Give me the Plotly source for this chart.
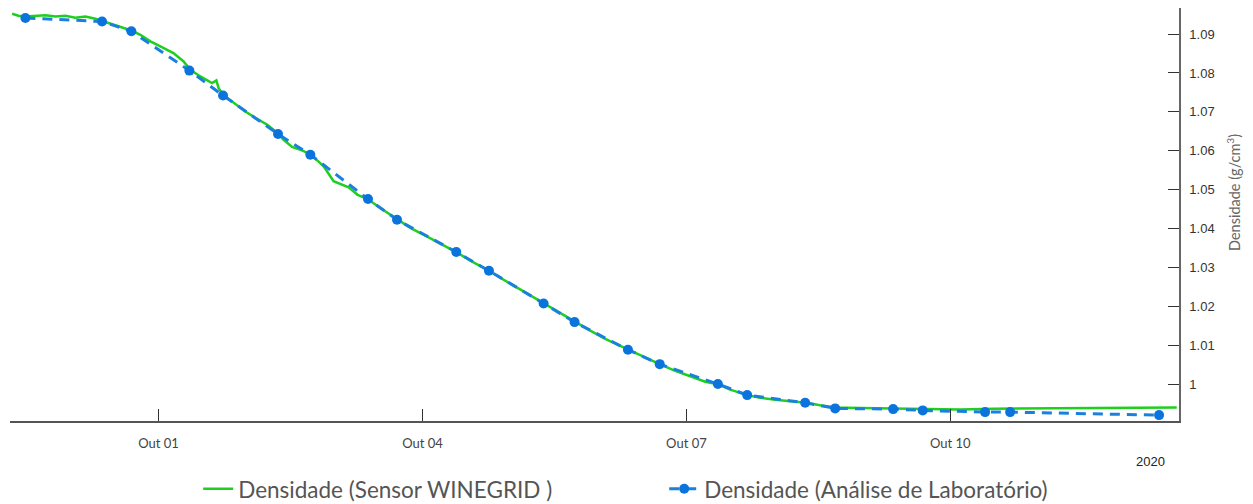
import plotly.graph_objects as go

# ---- data ----
sensor_time = [
    "2020-09-29 08:03", "2020-09-29 09:45", "2020-09-29 11:40", "2020-09-29 14:24",
    "2020-09-29 17:08", "2020-09-29 19:51", "2020-09-29 22:35", "2020-09-30 01:19",
    "2020-09-30 04:02", "2020-09-30 06:46", "2020-09-30 08:24", "2020-09-30 10:51",
    "2020-09-30 13:35", "2020-09-30 16:35", "2020-09-30 19:02", "2020-09-30 21:46",
    "2020-10-01 00:29", "2020-10-01 04:02", "2020-10-01 06:46", "2020-10-01 08:40",
    "2020-10-01 11:24", "2020-10-01 14:35", "2020-10-01 15:46", "2020-10-01 16:23",
    "2020-10-01 17:35", "2020-10-01 20:29", "2020-10-01 23:40", "2020-10-02 03:13",
    "2020-10-02 05:40", "2020-10-02 08:40", "2020-10-02 10:02", "2020-10-02 12:25",
    "2020-10-02 15:08", "2020-10-02 17:35", "2020-10-02 21:02", "2020-10-02 23:45",
    "2020-10-03 02:03", "2020-10-03 03:51", "2020-10-03 06:18", "2020-10-03 09:02",
    "2020-10-03 12:29", "2020-10-03 16:35", "2020-10-03 20:40", "2020-10-04 00:46",
    "2020-10-04 04:51", "2020-10-04 09:13", "2020-10-04 13:02", "2020-10-04 18:08",
    "2020-10-04 21:13", "2020-10-05 01:19", "2020-10-05 05:24", "2020-10-05 09:02",
    "2020-10-05 13:35", "2020-10-05 17:29", "2020-10-05 21:46", "2020-10-06 01:51",
    "2020-10-06 04:35", "2020-10-06 08:03", "2020-10-06 11:24", "2020-10-06 14:08",
    "2020-10-06 16:43", "2020-10-06 20:57", "2020-10-07 01:02", "2020-10-07 05:08",
    "2020-10-07 08:35", "2020-10-07 11:57", "2020-10-07 16:35", "2020-10-07 20:08",
    "2020-10-08 00:13", "2020-10-08 04:19", "2020-10-08 08:35", "2020-10-08 12:29",
    "2020-10-08 16:35", "2020-10-08 23:24", "2020-10-09 08:24", "2020-10-09 16:35",
    "2020-10-10 02:40", "2020-10-10 11:40", "2020-10-10 20:57", "2020-10-11 05:57",
    "2020-10-11 14:57", "2020-10-12 01:02", "2020-10-12 13:46",
]
sensor_density = [
    1.0952, 1.0947, 1.0945, 1.0947, 1.0948, 1.0945, 1.0947, 1.0942,
    1.0945, 1.0939, 1.0934, 1.0927, 1.0919, 1.0909, 1.0898, 1.0881,
    1.0868, 1.0851, 1.0830, 1.0808, 1.0791, 1.0774, 1.0781, 1.0761,
    1.0744, 1.0723, 1.0701, 1.0680, 1.0667, 1.0644, 1.0629, 1.0610,
    1.0601, 1.0590, 1.0560, 1.0522, 1.0513, 1.0506, 1.0487, 1.0476,
    1.0453, 1.0427, 1.0402, 1.0382, 1.0361, 1.0340, 1.0318, 1.0292,
    1.0274, 1.0251, 1.0228, 1.0208, 1.0182, 1.0160, 1.0138, 1.0117,
    1.0105, 1.0089, 1.0074, 1.0063, 1.0052, 1.0035, 1.0020, 1.0007,
    1.0000, 0.99864, 0.99725, 0.99658, 0.99607, 0.99568, 0.99530, 0.99466,
    0.99409, 0.99394, 0.99376, 0.99368, 0.99358, 0.99376, 0.99384, 0.99389,
    0.99394, 0.99401, 0.99409,
]

lab_time = [
    "2020-09-29 11:40", "2020-09-30 08:35", "2020-09-30 16:35", "2020-10-01 08:24",
    "2020-10-01 17:35", "2020-10-02 08:35", "2020-10-02 17:24", "2020-10-03 09:08",
    "2020-10-03 17:03", "2020-10-04 09:13", "2020-10-04 18:08", "2020-10-05 09:02",
    "2020-10-05 17:29", "2020-10-06 08:03", "2020-10-06 16:43", "2020-10-07 08:35",
    "2020-10-07 16:35", "2020-10-08 08:24", "2020-10-08 16:35", "2020-10-09 08:24",
    "2020-10-09 16:28", "2020-10-10 09:29", "2020-10-10 16:19", "2020-10-12 08:57",
]
lab_density = [
    1.0941, 1.0932, 1.0907, 1.0806, 1.0742, 1.0643, 1.0590, 1.0476,
    1.0423, 1.0340, 1.0292, 1.0208, 1.0160, 1.0089, 1.0052, 1.0001,
    0.99725, 0.99530, 0.99384, 0.99366, 0.99332, 0.99288, 0.99288, 0.99211,
]

x_tick_vals = ["2020-10-01", "2020-10-04", "2020-10-07", "2020-10-10"]
x_tick_text = ["Out 01", "Out 04", "Out 07", "Out 10"]
y_tick_vals = [1.00, 1.01, 1.02, 1.03, 1.04, 1.05, 1.06, 1.07, 1.08, 1.09]
y_tick_text = ["1", "1.01", "1.02", "1.03", "1.04", "1.05", "1.06", "1.07", "1.08", "1.09"]

sensor_name = "Densidade (Sensor WINEGRID )"
lab_name = "Densidade (Análise de Laboratório)"
y_title = "Densidade (g/cm<sup>3</sup>)"
year_label = "2020"

fig = go.Figure()
fig.add_trace(go.Scatter(
    x=sensor_time, y=sensor_density, mode="lines", name=sensor_name,
    line=dict(color="#1fcf1f", width=2.5),
))
fig.add_trace(go.Scatter(
    x=lab_time, y=lab_density, mode="lines+markers", name=lab_name,
    line=dict(color="#1a80e0", width=3, dash="10px,7px"),
    marker=dict(color="#0a74dc", size=10),
))

fig.update_layout(
    width=1253, height=504,
    margin=dict(l=2, r=82, t=0, b=91),
    paper_bgcolor="white", plot_bgcolor="white",
    showlegend=True,
    legend=dict(
        orientation="h", x=0.161, xanchor="left", y=-0.165, yanchor="middle",
        font=dict(family="Lato, sans-serif", size=22.5, color="#555"),
        entrywidth=421, entrywidthmode="pixels",
    ),
    xaxis=dict(
        type="date",
        range=["2020-09-29 07:28", "2020-10-12 14:23"],
        tickvals=x_tick_vals, ticktext=x_tick_text,
        ticks="inside", ticklen=12, tickcolor="#333", tickwidth=1,
        ticklabelstandoff=10,
        showline=True, linecolor="#555", linewidth=1.5,
        showgrid=False, zeroline=False,
        tickfont=dict(family="Lato, sans-serif", size=13, color="#444"),
    ),
    yaxis=dict(
        side="right",
        range=[0.9906, 1.09668],
        tickvals=y_tick_vals, ticktext=y_tick_text,
        ticks="inside", ticklen=11, tickcolor="#333", tickwidth=1,
        ticklabelstandoff=6,
        showline=True, linecolor="#666", linewidth=1.5,
        showgrid=False, zeroline=False,
        tickfont=dict(family="Liberation Sans, Arial, sans-serif", size=13, color="#333"),
    ),
    annotations=[
        dict(
            text=year_label, xref="paper", yref="paper", x=0.9752, y=-0.097,
            xanchor="center", yanchor="middle", showarrow=False,
            font=dict(family="Liberation Sans, Arial, sans-serif", size=13, color="#222"),
        ),
        dict(
            text=y_title, xref="paper", yref="paper", x=1.0462, y=0.552,
            xanchor="center", yanchor="middle", showarrow=False, textangle=-90,
            font=dict(family="Lato, sans-serif", size=14.5, color="#666"),
        ),
    ],
)

fig.write_html("out.html")
